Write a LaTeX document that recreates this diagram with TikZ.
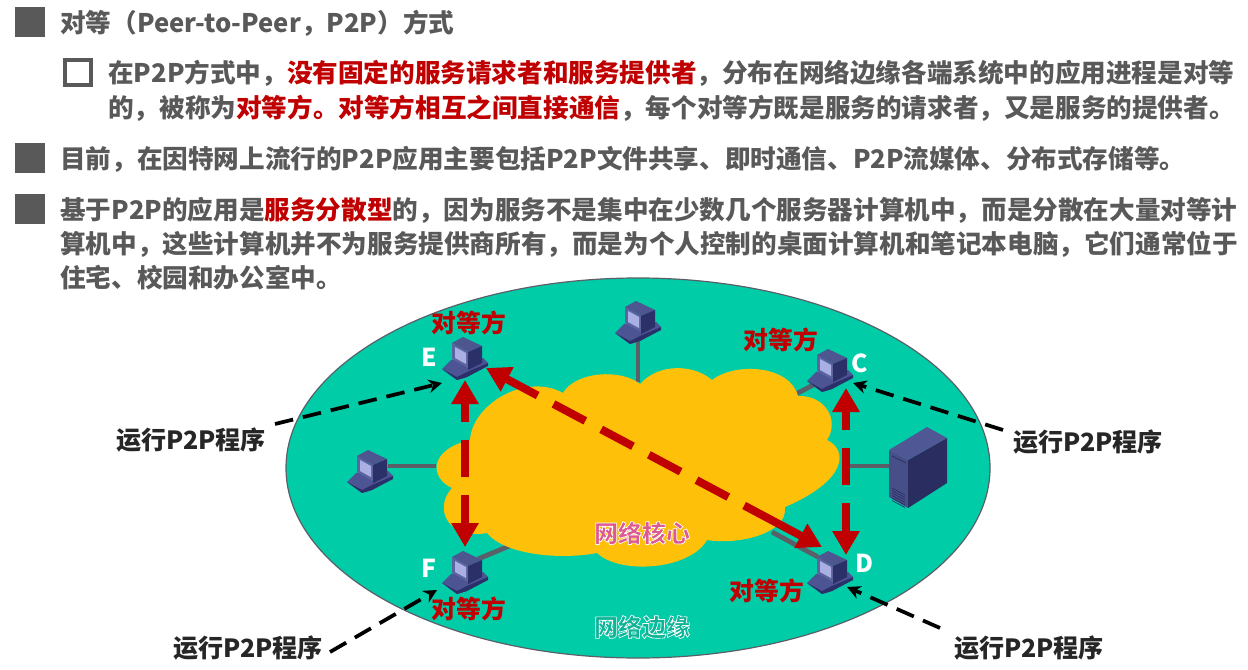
\documentclass[tikz,border=0pt]{standalone}
\usepackage{fontspec}
\usetikzlibrary{arrows.meta}
\setmainfont{Noto Sans CJK SC}
\definecolor{txtgray}{HTML}{595959}
\definecolor{redA}{HTML}{C00000}
\definecolor{teal}{HTML}{00CCA8}
\definecolor{coreY}{HTML}{FFC00A}
\definecolor{linkG}{HTML}{5A5F68}
\definecolor{pcTop}{HTML}{4E568F}
\definecolor{pcFront}{HTML}{5C649F}
\definecolor{pcScreen}{HTML}{AAB0E4}
\definecolor{pcDark}{HTML}{2B3068}
\definecolor{pcBase}{HTML}{4C5493}
\definecolor{srvFront}{HTML}{474F88}
\definecolor{srvTop}{HTML}{4F5794}
\definecolor{srvSide}{HTML}{2A2D60}
\definecolor{coreT}{HTML}{DB5A92}
\definecolor{edgeT}{HTML}{0FB396}
\newcommand{\halo}[1]{\special{pdf:code q 2 Tr 0.5 w 1 1 1 RG}#1\special{pdf:code Q}}
\newcommand{\zhc}{\symbol{"FF0C}}
\newcommand{\zhl}{\symbol{"FF08}}
\newcommand{\zhr}{\symbol{"FF09}}
\tikzset{
 x=0.75pt,y=-0.75pt,
 line/.style={anchor=west,inner sep=0pt,text=txtgray,font=\fontsize{19.2pt}{22pt}\selectfont\bfseries},
 runlabel/.style={inner sep=0pt,text=black!85,font=\fontsize{18.8pt}{22pt}\selectfont\bfseries},
 peer/.style={inner sep=0pt,text=redA,font=\fontsize{18.6pt}{22pt}\selectfont\bfseries},
 letter/.style={inner sep=0pt,text=white,font=\fontsize{18.5pt}{22pt}\selectfont\bfseries},
 zone/.style={inner sep=0pt,font=\fontsize{18pt}{22pt}\selectfont\bfseries},
 link/.style={draw=linkG,line width=3.6pt},
 peerarrow/.style={draw=redA,line width=6pt,{Triangle[width=19.5pt,length=18pt]}-{Triangle[width=19.5pt,length=18pt]}},
 callout/.style={draw=black,line width=2.8pt,dash pattern=on 14pt off 7.5pt,-{Stealth[length=10pt,width=10pt]}},
 solidbullet/.style={fill=txtgray},
 pc/.pic={
  \fill[pcBase] (-23,11)--(-14,2)--(18,0)--(23,5)--(2,19)--(-8,22)--cycle;
  \fill[pcDark] (-23,11)--(-8,19)--(2,14)--(23,5)--(23,8)--(2,19)--(-8,22)--cycle;
  \fill[pcFront] (-13,-15)--(3,-6)--(3,10)--(-13,1)--cycle;
  \fill[pcScreen] (-10,-11)--(1,-5)--(1,6)--(-10,0)--cycle;
  \fill[pcTop] (-13,-15)--(-2,-21)--(17,-12)--(3,-6)--cycle;
  \fill[pcDark] (3,-6)--(17,-12)--(17,5)--(3,12)--cycle;
 }
}
\begin{document}
\begin{tikzpicture}
\useasboundingbox (0,0) rectangle (1248,670);
\fill[white] (0,0) rectangle (1248,670);
% bullets
\fill[solidbullet] (15,7) rectangle (45,37);
\draw[txtgray,line width=3pt] (65,60) rectangle (90.5,85);
\fill[solidbullet] (15,143) rectangle (45,173);
\fill[solidbullet] (15,194) rectangle (45,224);
% text
\node[line] (l1) at (60,23) {对等\zhl Peer-{}to-{}Peer\zhc P2P\zhr 方式};
\node[line] (l2) at (108,73) {在P2P方式中\zhc\textcolor{redA}{没有固定的服务请求者和服务提供者}\zhc 分布在网络边缘各端系统中的应用进程是对等};
\node[line] (l3) at (108,108) {的\zhc 被称为\textcolor{redA}{对等方。对等方相互之间直接通信}\zhc 每个对等方既是服务的请求者\zhc 又是服务的提供者。};
\node[line] (l4) at (60,159) {目前\zhc 在因特网上流行的P2P应用主要包括P2P文件共享、即时通信、P2P流媒体、分布式存储等。};
\node[line] (l5) at (60,210) {基于P2P的应用是\textcolor{redA}{服务分散型}的\zhc 因为服务不是集中在少数几个服务器计算机中\zhc 而是分散在大量对等计};
\node[line] (l6) at (60,244) {算机中\zhc 这些计算机并不为服务提供商所有\zhc 而是为个人控制的桌面计算机和笔记本电脑\zhc 它们通常位于};
\node[line] (l7) at (60,278) {住宅、校园和办公室中。};
% edge ellipse
\filldraw[fill=teal,draw=linkG,line width=0.9pt] (638,468) ellipse [x radius=352,y radius=190];
% links
\coordinate (cTop) at (638,382);
\coordinate (cLeft) at (436,466);
\coordinate (cF) at (514,544);
\coordinate (cC) at (796,394);
\coordinate (cS) at (842,466);
\coordinate (cD) at (772,532);
\coordinate (pTop) at (638,340);
\coordinate (pLeft) at (388,466);
\coordinate (pF) at (478,559);
\coordinate (pC) at (815,384);
\coordinate (srv) at (892,466);
\coordinate (pD) at (818,557);
\draw[link] (pTop)--(cTop);
\draw[link] (pLeft)--(cLeft);
\draw[link] (pF)--(cF);
\draw[link] (pC)--(cC);
\draw[link] (srv)--(cS);
\draw[link] (pD)--(cD);
% core cloud
\fill[coreY] (452,488)
 .. controls (430,478) and (428,450) .. (470,440)
 .. controls (472,405) and (525,372) .. (563,393)
 .. controls (575,372) and (620,368) .. (640,384)
 .. controls (660,362) and (695,365) .. (712,380)
 .. controls (735,362) and (790,365) .. (798,396)
 .. controls (825,395) and (840,420) .. (827,440)
 .. controls (848,450) and (848,480) .. (785,507)
 .. controls (788,535) and (735,545) .. (707,540)
 .. controls (690,570) and (620,575) .. (597,553)
 .. controls (560,560) and (505,555) .. (487,533)
 .. controls (450,540) and (432,510) .. (452,488) -- cycle;
% computers
\pic at (465,358) {pc};
\pic at (638,322) {pc};
\pic at (370,471) {pc};
\pic at (465,572) {pc};
\pic at (830,370) {pc};
\pic at (830,572) {pc};
% server
\fill[srvFront] (889,450)--(908,460)--(908,508)--(889,497)--cycle;
\fill[srvSide] (908,460)--(947,438)--(947,483)--(908,508)--cycle;
\fill[srvTop] (889,450)--(927,427)--(947,438)--(908,460)--cycle;
\draw[srvSide,line width=0.5pt] (892,456)--(906,463);
\foreach \g in {0,2.5,...,12.5}{\draw[srvSide,line width=0.5pt] (892,488+\g)--(905,495+\g);}
% zone labels
\node[zone,text=coreT] (corelabel) at (642,533) {\halo{网络核心}};
\node[zone,text=edgeT] (edgelabel) at (642,627) {\halo{网络边缘}};
% peer arrows
\coordinate (tE) at (486,368);
\coordinate (tD) at (822,547);
\coordinate (tEb) at (465,380);
\coordinate (tFt) at (465,547);
\coordinate (tCb) at (846,388);
\coordinate (tDt) at (846,555);
\draw[peerarrow,dash pattern=on 27pt off 13.5pt on 27pt off 13.5pt on 27pt off 13.5pt on 27pt off 13.5pt on 27pt off 13.5pt on 60pt off 1pt] (tE)--(tD);
\draw[peerarrow,dash pattern=on 27.75pt off 13.5pt,dash phase=13.5pt] (tEb)--(tFt);
\draw[peerarrow,dash pattern=on 27.75pt off 13.5pt,dash phase=13.5pt] (tCb)--(tDt);
% labels
\node[peer] (pe) at (469,323) {对等方};
\node[peer] (pc1) at (781,340) {对等方};
\node[peer] (pf) at (469,609) {对等方};
\node[peer] (pd1) at (767,591) {对等方};
\node[letter] (E) at (429,357) {E};
\node[letter] (F) at (429,568) {F};
\node[letter] (C) at (860,363) {C};
\node[letter] (D) at (864,563) {D};
% run labels and callouts
\node[runlabel] (r1) at (191,440) {运行P2P程序};
\node[runlabel] (r2) at (1088,442) {运行P2P程序};
\node[runlabel] (r3) at (248,648) {运行P2P程序};
\node[runlabel] (r4) at (1029,648) {运行P2P程序};
\coordinate (a1) at (275,424);
\coordinate (b1) at (442,383);
\coordinate (a2) at (1003,430);
\coordinate (b2) at (853,383);
\coordinate (a3) at (330,652);
\coordinate (b3) at (437,590);
\coordinate (a4) at (940,628);
\coordinate (b4) at (847,587);
\draw[callout] (a1)--(b1);
\draw[callout] (a2)--(b2);
\draw[callout] (a3)--(b3);
\draw[callout] (a4)--(b4);
\end{tikzpicture}
\end{document}
